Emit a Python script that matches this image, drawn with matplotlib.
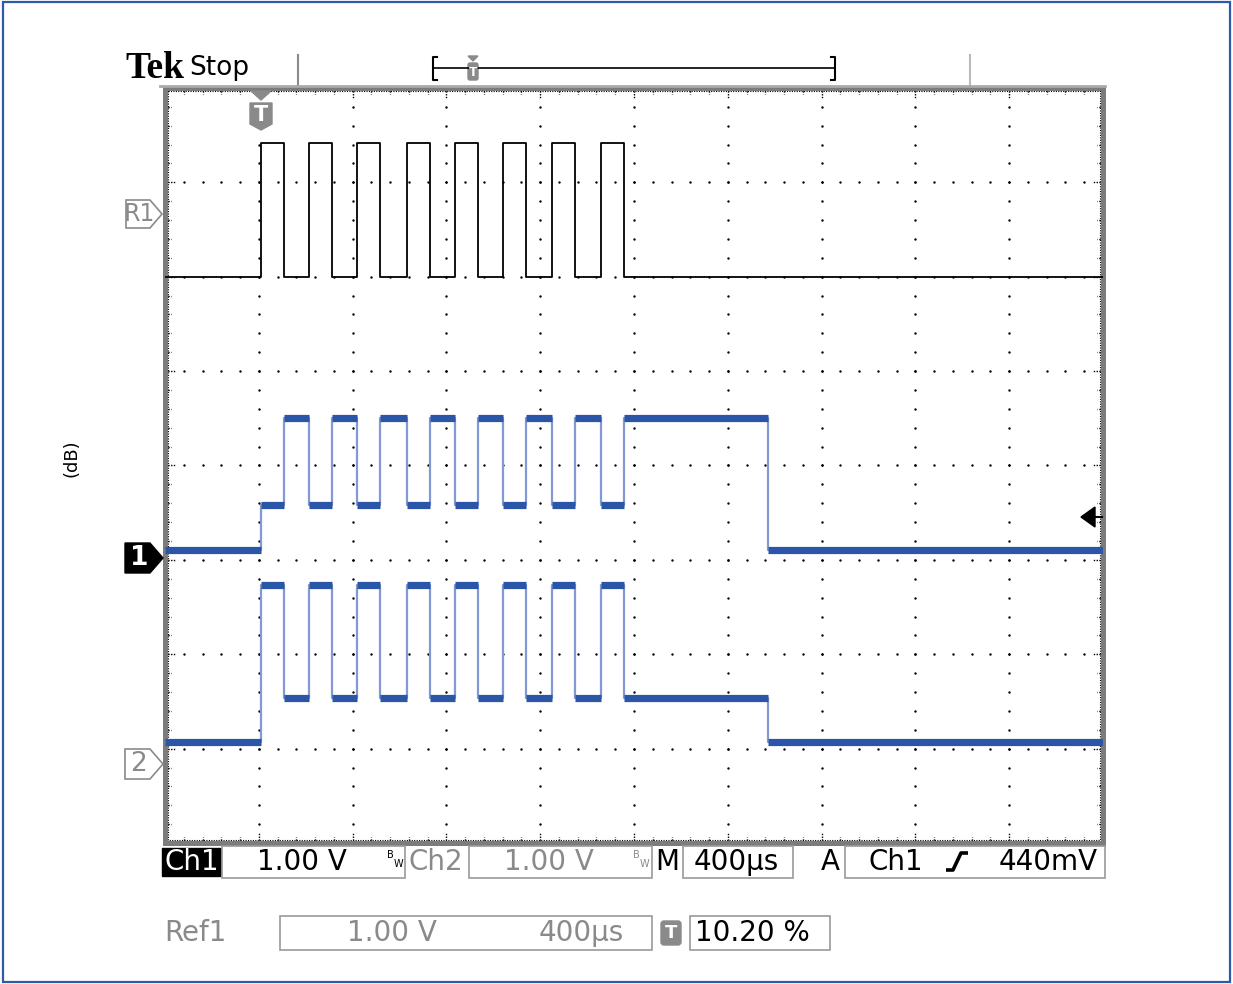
import numpy as np
import matplotlib.pyplot as plt
from matplotlib.patches import Polygon, Rectangle, FancyBboxPatch

# screen units: 10 horizontal divisions (400 us/div), 8 vertical divisions (1 V/div)
rise_t = [1.02, 1.53, 2.05, 2.58, 3.09, 3.60, 4.13, 4.65]
fall_t = [1.27, 1.78, 2.29, 2.83, 3.34, 3.85, 4.37, 4.89]
end_t = 6.43

# (idle, level after rise, level after fall, level after end_t)
r1_levels = [6.00, 7.42, 6.00, 6.00]
ch1_levels = [3.10, 3.58, 4.50, 3.10]
ch2_levels = [1.07, 2.73, 1.54, 1.07]

W, H = 1233, 984
GRAY = '#8a8a8a'
BLUE = '#2b55a6'
LIGHT_BLUE = '#8299d2'


def build_trace(levels):
    idle, on_rise, on_fall, after = levels
    t = [0.0]
    v = [idle]
    for r, f in zip(rise_t, fall_t):
        t += [r, f]
        v += [on_rise, on_fall]
    t += [end_t, 10.0]
    v += [after, after]
    return np.array(t), np.array(v)


fig = plt.figure(figsize=(W / 100, H / 100), dpi=100)
fig.patch.set_facecolor('white')

# main graticule axes, placed at the screen pixels
ax = fig.add_axes([165 / W, 1 - 843 / H, (1103 - 165) / W, (843 - 88) / H])
ax.set_xlim(0, 10)
ax.set_ylim(0, 8)
ax.set_facecolor('none')
for s in ax.spines.values():
    s.set_visible(False)
ax.set_xticks([])
ax.set_yticks([])

# dotted grid
minor_y = np.arange(0.2, 8.0, 0.2)
minor_x = np.arange(0.2, 10.0, 0.2)
for k in range(1, 10):
    ax.scatter(np.full(minor_y.size, k), minor_y, s=3, c='black', lw=0, zorder=1)
for j in range(1, 8):
    ax.scatter(minor_x, np.full(minor_x.size, j), s=3, c='black', lw=0, zorder=1)

# border ticks
for x in minor_x:
    ln = 0.11 if abs(x - round(x)) < 1e-6 else 0.06
    ax.plot([x, x], [8, 8 - ln], color='black', lw=1.0, ls=(0, (1, 1)), zorder=1)
    ax.plot([x, x], [0, ln], color='black', lw=1.0, ls=(0, (1, 1)), zorder=1)
for y in minor_y:
    ln = 0.11 if abs(y - round(y)) < 1e-6 else 0.06
    ax.plot([0, ln], [y, y], color='black', lw=1.0, ls=(0, (1, 1)), zorder=1)
    ax.plot([10, 10 - ln], [y, y], color='black', lw=1.0, ls=(0, (1, 1)), zorder=1)
ax.plot([0.03, 9.97, 9.97, 0.03, 0.03], [7.97, 7.97, 0.03, 0.03, 7.97],
        color='black', lw=0.8, ls=(0, (1, 1.2)), zorder=1)
ax.add_patch(Rectangle((0, 0), 10, 8, fill=False, ec='#7c7c7c', lw=3.6, clip_on=False, zorder=3))

# traces
t, v = build_trace(r1_levels)
ax.step(t, v, where='post', color='black', lw=1.3, zorder=4)

for levels in (ch1_levels, ch2_levels):
    t, v = build_trace(levels)
    ax.step(t, v, where='post', color=LIGHT_BLUE, lw=1.6, zorder=4)
    ax.hlines(v[:-1], t[:-1], t[1:], color=BLUE, lw=5.2, zorder=5)

# overlay in pixel coordinates for the screen decorations
ov = fig.add_axes([0, 0, 1, 1], zorder=5)
ov.set_xlim(0, W)
ov.set_ylim(H, 0)
ov.axis('off')
ov.set_facecolor('none')

ov.add_patch(Rectangle((3, 2), W - 6, H - 4, fill=False, ec='#2f5aa8', lw=1.6))
ov.text(72, 458, '(dB)', rotation=90, ha='center', va='center', fontsize=13)

# header
ov.text(125, 69, 'Tek', family='Liberation Serif', weight='bold', fontsize=27,
        ha='left', va='center')
ov.text(189, 68, 'Stop', fontsize=19, ha='left', va='center')
ov.plot([298, 298], [55, 86], color=GRAY, lw=1.5)
ov.plot([970, 970], [55, 86], color='#bbbbbb', lw=1.5)
ov.plot([160, 1105], [86, 86], color='#aaaaaa', lw=2)
ov.plot([437, 433, 433, 437], [57, 57, 80, 80], color='black', lw=1.5)
ov.plot([831, 835, 835, 831], [57, 57, 80, 80], color='black', lw=1.5)
ov.plot([433, 835], [68, 68], color='black', lw=1.2)
ov.add_patch(Polygon([(468, 56), (478, 56), (473, 61)], color=GRAY))
ov.add_patch(FancyBboxPatch((468, 63), 10, 17, boxstyle='round,pad=0,rounding_size=2', color=GRAY))
ov.text(473, 72, 'T', color='white', fontsize=9, weight='bold', ha='center', va='center')

# trigger position marker
ov.add_patch(Polygon([(251, 91), (271, 91), (261, 100)], color=GRAY))
ov.add_patch(Polygon([(250, 103), (272, 103), (272, 124), (261, 130), (250, 124)], color=GRAY))
ov.text(261, 115, 'T', color='white', fontsize=15, weight='bold', ha='center', va='center')

# channel markers
ov.add_patch(Polygon([(126, 200), (150, 200), (162, 214), (150, 228), (126, 228)],
                     fill=False, ec=GRAY, lw=1.2))
ov.text(139, 214, 'R1', color=GRAY, fontsize=17, ha='center', va='center')
ov.add_patch(Polygon([(125, 543), (150, 543), (163, 558), (150, 573), (125, 573)], color='black'))
ov.text(139, 558, '1', color='white', fontsize=19, weight='bold', ha='center', va='center')
ov.add_patch(Polygon([(125, 749), (150, 749), (163, 764), (150, 779), (125, 779)],
                     fill=False, ec=GRAY, lw=1.2))
ov.text(139, 764, '2', color=GRAY, fontsize=19, ha='center', va='center')
ov.add_patch(Polygon([(1081, 517), (1095, 507), (1095, 527)], color='black'))
ov.plot([1094, 1102], [517, 517], color='black', lw=1.5)

# status boxes
for x0, y0, x1, y1 in [(222, 846, 405, 878), (469, 846, 652, 878), (683, 846, 793, 878),
                       (845, 846, 1105, 878), (280, 916, 652, 950), (690, 916, 830, 950)]:
    ov.add_patch(Rectangle((x0, y0), x1 - x0, y1 - y0, fill=False, ec='#9a9a9a', lw=1.2))
ov.add_patch(Rectangle((162, 848), 58, 28, color='black'))
ov.add_patch(FancyBboxPatch((661, 921), 20, 24, boxstyle='round,pad=0,rounding_size=3', color=GRAY))
ov.text(671, 933, 'T', color='white', fontsize=13, weight='bold', ha='center', va='center')

row1, row2 = 862, 933
fs = 20
ov.text(164, row1, 'Ch1', color='white', fontsize=fs, ha='left', va='center')
ov.text(257, row1, '1.00 V', fontsize=fs, ha='left', va='center')
ov.text(387, 855, 'B', fontsize=7, ha='left', va='center')
ov.text(394, 864, 'W', fontsize=7, ha='left', va='center')
ov.text(409, row1, 'Ch2', color=GRAY, fontsize=fs, ha='left', va='center')
ov.text(504, row1, '1.00 V', color=GRAY, fontsize=fs, ha='left', va='center')
ov.text(633, 855, 'B', color=GRAY, fontsize=7, ha='left', va='center')
ov.text(640, 864, 'W', color=GRAY, fontsize=7, ha='left', va='center')
ov.text(655, row1, 'M', fontsize=fs, ha='left', va='center')
ov.text(694, row1, '400µs', fontsize=fs, ha='left', va='center')
ov.text(821, row1, 'A', fontsize=fs, ha='left', va='center')
ov.text(869, row1, 'Ch1', fontsize=fs, ha='left', va='center')
ov.plot([946, 953, 961, 968], [870, 870, 853, 853], color='black', lw=2.6,
        solid_capstyle='butt')
ov.text(999, row1, '440mV', fontsize=fs, ha='left', va='center')

ov.text(164, row2, 'Ref1', color=GRAY, fontsize=fs, ha='left', va='center')
ov.text(347, row2, '1.00 V', color=GRAY, fontsize=fs, ha='left', va='center')
ov.text(539, row2, '400µs', color=GRAY, fontsize=fs, ha='left', va='center')
ov.text(695, row2, '10.20 %', fontsize=fs, ha='left', va='center')

fig.savefig('out.png', dpi=100)
